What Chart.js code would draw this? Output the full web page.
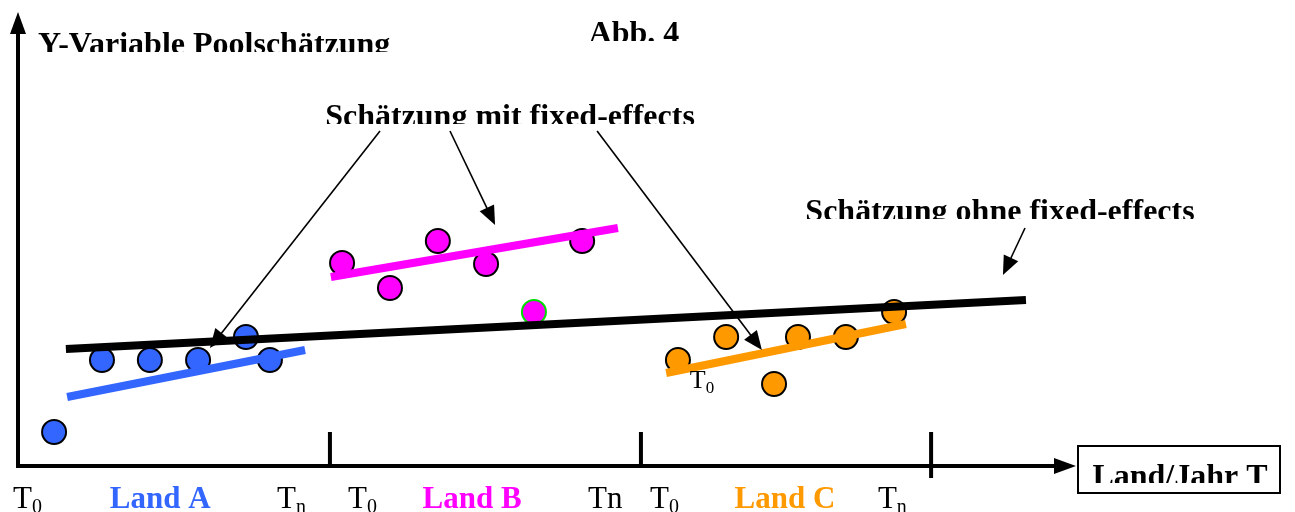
<!DOCTYPE html>
<html>
<head>
<meta charset="utf-8">
<script src="https://cdn.jsdelivr.net/npm/chart.js@4.4.1/dist/chart.umd.min.js"></script>
<style>
  body { margin: 0; background: #fff; }
  #wrap { width: 1295px; height: 512px; }
</style>
</head>
<body>
<div id="wrap"><canvas id="c"></canvas></div>
<script>
// x = Land/Jahr index (each Land spans T0..Tn), y = Y-Variable
const countries = ['Land A', 'Land B', 'Land C'];
const countryColors = ['#3366ff', '#ff00ff', '#ff9900'];

const landA_x = [1.16, 2.70, 4.24, 5.79, 7.33, 8.10];
const landA_y = [3.4, 10.6, 10.6, 10.6, 12.9, 10.6];
const landB_x = [10.42, 11.96, 13.50, 15.05, 18.14, 16.59];
const landB_y = [20.3, 17.8, 22.5, 20.2, 22.5, 15.4];
const landC_x = [21.22, 22.77, 24.31, 25.08, 26.62, 28.17];
const landC_y = [10.6, 12.9, 8.2, 12.9, 12.9, 15.4];

// fixed-effects fits per Land (start, end)
const fitA_x = [1.58, 9.23], fitA_y = [6.9, 11.6];
const fitB_x = [10.06, 19.29], fitB_y = [18.9, 23.8];
const fitC_x = [20.84, 28.55], fitC_y = [9.3, 14.2];
// pooled fit without fixed effects
const pool_x = [1.54, 32.41], pool_y = [11.7, 16.6];

// country boundaries on the x axis and tick labels
const boundaries = [10.03, 20.03, 29.36];
const tickLabelX = [-0.16, 8.33, 10.61, 18.33, 20.32, 27.65];
const tickLabels = [['T', '0'], ['T', 'n'], ['T', '0'], ['Tn', ''], ['T', '0'], ['T', 'n']];
const countryLabelX = [4.57, 14.6, 24.66];

const pts = (xs, ys) => xs.map((x, i) => ({ x, y: ys[i] }));

const fitLine = (label, xs, ys, color) => ({
  type: 'line', label, data: pts(xs, ys), borderColor: color,
  borderWidth: 8, pointRadius: 0, borderCapStyle: 'butt', tension: 0
});
const dots = (label, xs, ys, color, edge) => ({
  type: 'scatter', label, data: pts(xs, ys), backgroundColor: color,
  borderColor: edge || '#000', pointBorderWidth: 2, pointRadius: 12, pointHoverRadius: 12
});

const serif = '"Liberation Serif", "Times New Roman", serif';

function arrow(ctx, x1, y1, x2, y2) {
  const a = Math.atan2(y2 - y1, x2 - x1), L = 19, W = 8;
  ctx.beginPath();
  ctx.moveTo(x1, y1);
  ctx.lineTo(x2 - Math.cos(a) * L * 0.8, y2 - Math.sin(a) * L * 0.8);
  ctx.stroke();
  ctx.beginPath();
  ctx.moveTo(x2, y2);
  ctx.lineTo(x2 - Math.cos(a) * L + Math.sin(a) * W, y2 - Math.sin(a) * L - Math.cos(a) * W);
  ctx.lineTo(x2 - Math.cos(a) * L - Math.sin(a) * W, y2 - Math.sin(a) * L + Math.cos(a) * W);
  ctx.closePath();
  ctx.fill();
}

// text whose lower part is cut off, as in the original text boxes
function clippedText(ctx, txt, x, y, clipBottom, align) {
  ctx.save();
  ctx.beginPath();
  ctx.rect(0, 0, 1295, clipBottom);
  ctx.clip();
  ctx.textAlign = align || 'left';
  ctx.fillText(txt, x, y);
  ctx.restore();
}

function subT(ctx, main, sub, x, y, size) {
  ctx.font = size + 'px ' + serif;
  ctx.textAlign = 'left';
  ctx.fillText(main, x, y);
  const w = ctx.measureText(main).width;
  if (sub) {
    ctx.font = Math.round(size * 0.66) + 'px ' + serif;
    ctx.fillText(sub, x + w, y + 5);
  }
}

const diagram = {
  id: 'diagram',
  beforeDatasetsDraw(chart) {
    const { ctx, scales: { x, y } } = chart;
    const x0 = x.getPixelForValue(0), y0 = y.getPixelForValue(0);
    ctx.save();
    ctx.strokeStyle = '#000';
    ctx.fillStyle = '#000';
    ctx.lineWidth = 4;
    // y axis with arrow
    ctx.beginPath();
    ctx.moveTo(x0, y0 + 2);
    ctx.lineTo(x0, 30);
    ctx.stroke();
    ctx.beginPath();
    ctx.moveTo(x0, 12); ctx.lineTo(x0 - 8, 34); ctx.lineTo(x0 + 8, 34); ctx.closePath(); ctx.fill();
    // x axis with arrow
    ctx.beginPath();
    ctx.moveTo(x0 - 2, y0);
    ctx.lineTo(1058, y0);
    ctx.stroke();
    ctx.beginPath();
    ctx.moveTo(1076, y0); ctx.lineTo(1054, y0 - 8); ctx.lineTo(1054, y0 + 8); ctx.closePath(); ctx.fill();
    // boundary ticks
    boundaries.forEach((b, i) => {
      const bx = x.getPixelForValue(b);
      ctx.beginPath();
      ctx.moveTo(bx, y.getPixelForValue(3.4));
      ctx.lineTo(bx, y0 + (i === 2 ? 12 : 0));
      ctx.stroke();
    });
    ctx.restore();
  },
  afterDatasetsDraw(chart) {
    const { ctx, scales: { x, y } } = chart;
    const y0 = y.getPixelForValue(0);
    const X = v => x.getPixelForValue(v), Y = v => y.getPixelForValue(v);
    ctx.save();
    ctx.fillStyle = '#000';
    ctx.strokeStyle = '#000';
    ctx.textBaseline = 'alphabetic';

    ctx.font = 'bold 32px ' + serif;
    clippedText(ctx, 'Y-Variable Poolschätzung', 38, 54, 52);
    clippedText(ctx, 'Abb. 4', 634, 43, 41, 'center');
    clippedText(ctx, 'Schätzung mit fixed-effects', 510, 126, 124, 'center');
    clippedText(ctx, 'Schätzung ohne fixed-effects', 1000, 221, 219, 'center');

    // arrows
    ctx.lineWidth = 1.6;
    arrow(ctx, X(11.64), Y(33.5), X(6.17), Y(11.8));
    arrow(ctx, X(13.89), Y(33.5), X(15.34), Y(24.1));
    arrow(ctx, X(18.62), Y(33.5), X(23.92), Y(11.6));
    arrow(ctx, X(32.38), Y(23.8), X(31.67), Y(19.1));

    // T0 inside the plot
    subT(ctx, 'T', '0', X(21.6), Y(7.8), 26);

    // bottom tick labels
    tickLabels.forEach((t, i) => subT(ctx, t[0], t[1], X(tickLabelX[i]), y0 + 42, 31));
    ctx.font = 'bold 31px ' + serif;
    ctx.textAlign = 'center';
    countries.forEach((c, i) => {
      ctx.fillStyle = countryColors[i];
      ctx.fillText(c, X(countryLabelX[i]), y0 + 42);
    });

    // x axis title box
    ctx.fillStyle = '#000';
    ctx.lineWidth = 2;
    ctx.strokeRect(1078, 446, 202, 47);
    ctx.font = 'bold 32px ' + serif;
    clippedText(ctx, 'Land/Jahr T', 1180, 486, 483, 'center');
    ctx.restore();
  }
};

new Chart(document.getElementById('c'), {
  data: {
    datasets: [
      fitLine('Schätzung ohne fixed-effects', pool_x, pool_y, '#000'),
      fitLine(countries[0] + ' fit', fitA_x, fitA_y, countryColors[0]),
      fitLine(countries[1] + ' fit', fitB_x, fitB_y, countryColors[1]),
      fitLine(countries[2] + ' fit', fitC_x, fitC_y, countryColors[2]),
      dots(countries[0], landA_x, landA_y, countryColors[0]),
      dots(countries[1], landB_x.slice(0, 5), landB_y.slice(0, 5), countryColors[1]),
      dots(countries[1] + ' (Ausreißer)', landB_x.slice(5), landB_y.slice(5), countryColors[1], '#00dd00'),
      dots(countries[2], landC_x, landC_y, countryColors[2])
    ]
  },
  options: {
    responsive: true,
    maintainAspectRatio: false,
    animation: false,
    events: [],
    layout: { padding: { left: 18, right: 33, top: 16, bottom: 46 } },
    plugins: { legend: { display: false }, tooltip: { enabled: false } },
    scales: {
      x: { type: 'linear', min: 0, max: 40, display: false },
      y: { type: 'linear', min: 0, max: 45, display: false }
    }
  },
  plugins: [diagram]
});
</script>
</body>
</html>
